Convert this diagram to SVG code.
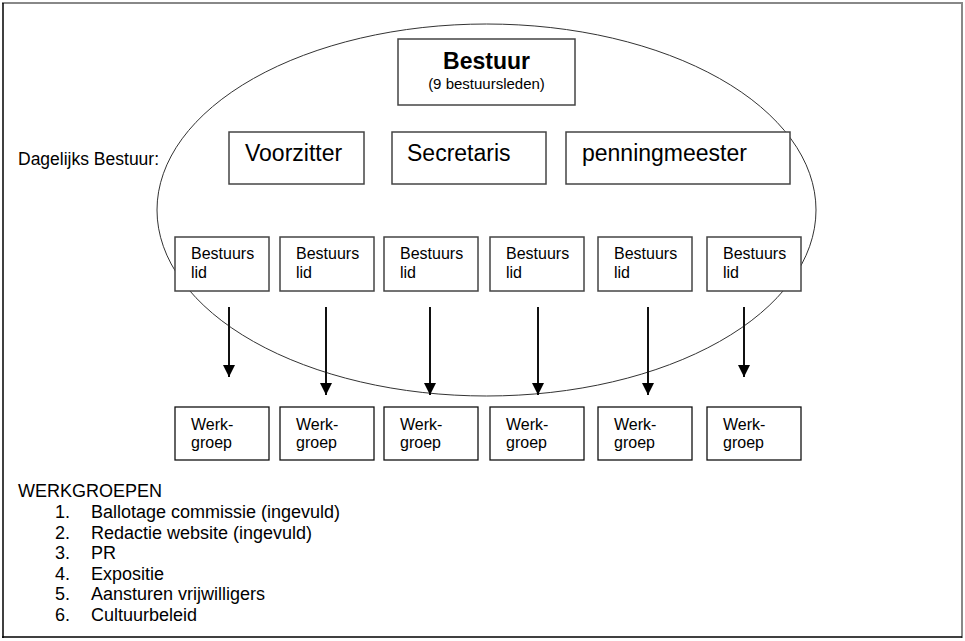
<svg xmlns="http://www.w3.org/2000/svg" width="965" height="641" viewBox="0 0 965 641">
<style>
text{font-family:"Liberation Sans",Arial,sans-serif;fill:#000}
.box{fill:#fff;stroke:#444;stroke-width:1.5}
.wbox{fill:#fff;stroke:#111;stroke-width:1.3}
.big{font-size:23px}
.sm{font-size:16px}
.lst{font-size:18px}
.arr{stroke:#111;stroke-width:2;fill:none}
</style>
<defs>
<marker id="ah" viewBox="0 0 12 12" refX="12" refY="6" markerWidth="12" markerHeight="12" markerUnits="userSpaceOnUse" orient="auto">
<path d="M0,0 L12,6 L0,12 Z" fill="#000"/>
</marker>
</defs>
<rect width="965" height="641" fill="#fff"/>
<g id="frame">
<line x1="2" y1="3" x2="963" y2="3" stroke="#888" stroke-width="2"/>
<line x1="962" y1="2" x2="962" y2="638" stroke="#888" stroke-width="2"/>
<line x1="3" y1="3" x2="3" y2="638" stroke="#000" stroke-width="1.5"/>
<line x1="2" y1="637" x2="962" y2="637" stroke="#000" stroke-width="1.5"/>
</g>
<g id="ellipse">
<ellipse cx="486.5" cy="210" rx="329.5" ry="186" fill="none" stroke="#333" stroke-width="1"/>
</g>
<text x="18" y="165" style="font-size:17.5px">Dagelijks Bestuur:</text>
<g id="bestuur">
<rect class="box" x="398" y="39" width="177" height="66"/>
<text x="486.5" y="69" text-anchor="middle" style="font-size:23px;font-weight:bold">Bestuur</text>
<text x="486.5" y="89" text-anchor="middle" style="font-size:15px">(9 bestuursleden)</text>
</g>
<g id="voorzitter">
<rect class="box" x="229" y="132" width="135" height="52"/>
<text class="big" x="245" y="161">Voorzitter</text>
</g>
<g id="secretaris">
<rect class="box" x="392" y="132" width="154" height="52"/>
<text class="big" x="407" y="161">Secretaris</text>
</g>
<g id="penningmeester">
<rect class="box" x="566" y="132" width="224" height="52"/>
<text class="big" x="582" y="161">penningmeester</text>
</g>
<g id="lid1"><rect class="box" x="175" y="237" width="94" height="54"/><text class="sm" x="191" y="259">Bestuurs</text><text class="sm" x="191" y="277.5">lid</text></g>
<g id="lid2"><rect class="box" x="280" y="237" width="94" height="54"/><text class="sm" x="296" y="259">Bestuurs</text><text class="sm" x="296" y="277.5">lid</text></g>
<g id="lid3"><rect class="box" x="384" y="237" width="94" height="54"/><text class="sm" x="400" y="259">Bestuurs</text><text class="sm" x="400" y="277.5">lid</text></g>
<g id="lid4"><rect class="box" x="490" y="237" width="94" height="54"/><text class="sm" x="506" y="259">Bestuurs</text><text class="sm" x="506" y="277.5">lid</text></g>
<g id="lid5"><rect class="box" x="598" y="237" width="94" height="54"/><text class="sm" x="614" y="259">Bestuurs</text><text class="sm" x="614" y="277.5">lid</text></g>
<g id="lid6"><rect class="box" x="707" y="237" width="94" height="54"/><text class="sm" x="723" y="259">Bestuurs</text><text class="sm" x="723" y="277.5">lid</text></g>
<g id="werk1"><rect class="wbox" x="175" y="407" width="94" height="53"/><text class="sm" x="191" y="430">Werk-</text><text class="sm" x="191" y="448">groep</text></g>
<g id="werk2"><rect class="wbox" x="280" y="407" width="94" height="53"/><text class="sm" x="296" y="430">Werk-</text><text class="sm" x="296" y="448">groep</text></g>
<g id="werk3"><rect class="wbox" x="384" y="407" width="94" height="53"/><text class="sm" x="400" y="430">Werk-</text><text class="sm" x="400" y="448">groep</text></g>
<g id="werk4"><rect class="wbox" x="490" y="407" width="94" height="53"/><text class="sm" x="506" y="430">Werk-</text><text class="sm" x="506" y="448">groep</text></g>
<g id="werk5"><rect class="wbox" x="598" y="407" width="94" height="53"/><text class="sm" x="614" y="430">Werk-</text><text class="sm" x="614" y="448">groep</text></g>
<g id="werk6"><rect class="wbox" x="707" y="407" width="94" height="53"/><text class="sm" x="723" y="430">Werk-</text><text class="sm" x="723" y="448">groep</text></g>
<g id="connectors">
<line class="arr" x1="229" y1="307" x2="229" y2="377" marker-end="url(#ah)"/>
<line class="arr" x1="326" y1="307" x2="326" y2="395" marker-end="url(#ah)"/>
<line class="arr" x1="430" y1="307" x2="430" y2="395" marker-end="url(#ah)"/>
<line class="arr" x1="538" y1="307" x2="538" y2="395" marker-end="url(#ah)"/>
<line class="arr" x1="648" y1="307" x2="648" y2="395" marker-end="url(#ah)"/>
<line class="arr" x1="744" y1="307" x2="744" y2="377" marker-end="url(#ah)"/>
</g>
<g id="legend">
<text class="lst" x="18" y="497">WERKGROEPEN</text>
<text class="lst" x="55" y="518">1.</text><text class="lst" x="91" y="518">Ballotage commissie (ingevuld)</text>
<text class="lst" x="55" y="538.5">2.</text><text class="lst" x="91" y="538.5">Redactie website (ingevuld)</text>
<text class="lst" x="55" y="559">3.</text><text class="lst" x="91" y="559">PR</text>
<text class="lst" x="55" y="579.5">4.</text><text class="lst" x="91" y="579.5">Expositie</text>
<text class="lst" x="55" y="600">5.</text><text class="lst" x="91" y="600">Aansturen vrijwilligers</text>
<text class="lst" x="55" y="620.5">6.</text><text class="lst" x="91" y="620.5">Cultuurbeleid</text>
</g>
</svg>
